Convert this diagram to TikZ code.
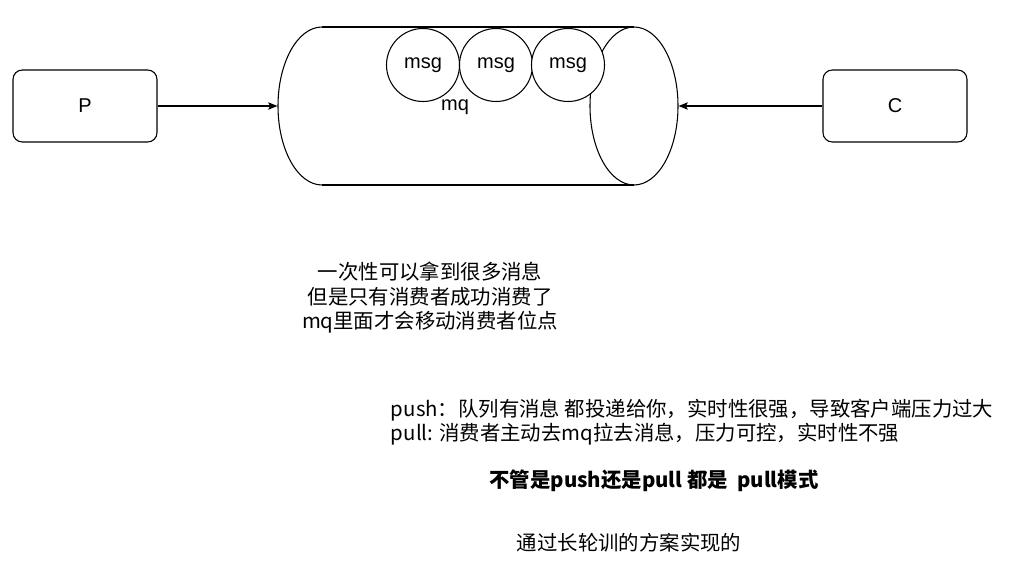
\documentclass[tikz,border=0pt]{standalone}
\usepackage{fontspec}
\setmainfont{Liberation Sans}
\newfontfamily\cjk{Noto Sans CJK SC}
\usetikzlibrary{positioning,arrows.meta}

\begin{document}
\begin{tikzpicture}[x=0.75pt,y=-0.75pt,font=\fontsize{15}{18}\selectfont,
    line width=0.8pt,
    box/.style={draw,rounded corners=7pt,minimum width=108pt,minimum height=54pt},
    msgnode/.style={draw,circle,fill=white,minimum size=54.75pt,inner sep=0pt},
    flow/.style={-{Stealth[length=7pt,width=5.5pt,inset=1.5pt]}},
    cjktext/.style={font=\cjk\fontsize{15.3}{18.4}\selectfont}]
  \useasboundingbox (0,0) rectangle (1035,574);
  % producer and consumer
  \node[box] (p) at (85,106) {P};
  \node[box] (c) at (895,106) {C};
  % queue body (cylinder lying on its side)
  \node[minimum width=300pt,minimum height=118.5pt,inner sep=0pt] (mq) at (478,106) {};
  \draw (322,27) -- (634,27) (322,185) -- (634,185);
  \draw (322,27) arc[start angle=270,end angle=90,x radius=44,y radius=79];
  \draw (634,106) ellipse[x radius=44,y radius=79];
  % messages inside the queue
  \node[msgnode] (m1) at (423,65) {msg};
  \node[msgnode] (m2) at (496,65) {msg};
  \node[msgnode] (m3) at (568,65) {msg};
  \node (mqlabel) at (455,107) {mq};
  % connectors
  \draw[flow] (p) -- (mq.west);
  \draw[flow] (c) -- (mq.east);
  % notes
  \node[cjktext,align=center] (note) at (430,298)
    {一次性可以拿到很多消息\\但是只有消费者成功消费了\\mq里面才会移动消费者位点};
  \node[cjktext,align=left,anchor=west] (modes) at (386,422)
    {push：队列有消息 都投递给你，实时性很强，导致客户端压力过大\\pull: 消费者主动去mq拉去消息，压力可控，实时性不强};
  \node[cjktext,font=\cjk\bfseries\fontsize{15.3}{18.4}\selectfont] (same) at (654,481) {不管是push还是pull 都是\ \ pull模式};
  \node[cjktext] (longpoll) at (629,543) {通过长轮训的方案实现的};
\end{tikzpicture}
\end{document}
